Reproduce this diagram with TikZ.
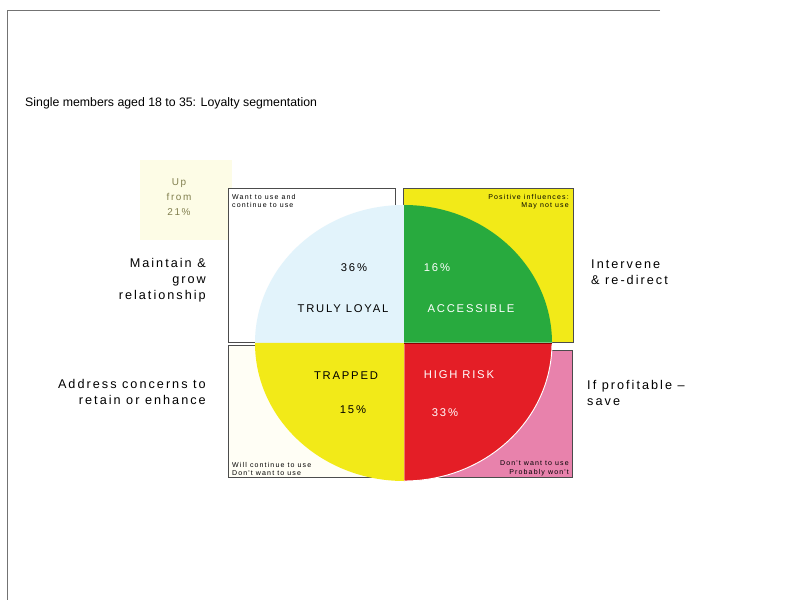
\documentclass[tikz,border=0pt]{standalone}
\usepackage{fontspec}
\setmainfont{Liberation Sans}
\newfontfamily\spacedfont{Liberation Sans}[LetterSpace=16]
\definecolor{segGreen}{RGB}{40,170,62}
\definecolor{segYellow}{RGB}{242,234,24}
\definecolor{segRed}{RGB}{228,30,38}
\definecolor{segPink}{RGB}{232,130,172}
\definecolor{segBlue}{RGB}{226,243,251}
\definecolor{upYellow}{RGB}{253,252,230}
\definecolor{upText}{RGB}{130,128,80}
\begin{document}
\begin{tikzpicture}[x=0.03cm, y=-0.03cm, every node/.style={inner sep=0pt},
    box/.style={draw=black!70, line width=0.5pt, anchor=north west},
    seglabel/.style={font=\spacedfont\fontsize{9.6}{11}\selectfont},
    sidelabel/.style={font=\spacedfont\fontsize{10.8}{13.5}\selectfont, align=#1},
    small/.style={font=\spacedfont\fontsize{6}{7.2}\selectfont, align=#1}]
    \useasboundingbox (0,0) rectangle (786,600);
    % frame
    \draw[black!55, line width=0.6pt] (660,10) -- (7,10) -- (7,600);
    
    % title
    \node[anchor=west, font=\fontsize{10.5}{12}\selectfont] (title) at (25,103) {Single members aged 18 to 35: Loyalty segmentation};
    
    % up from 21%
    \fill[upYellow] (140,160) rectangle (232,240);
    \node[align=center, text=upText, font=\spacedfont\fontsize{8.5}{12.5}\selectfont] (upfrom) at (179,197) {Up\\from\\21\%};
    
    % quadrant boxes
    \node[box, fill=white, minimum width=5.01cm, minimum height=4.62cm] (tl) at (228,188) {};
    \node[box, fill=segYellow, minimum width=5.1cm, minimum height=4.62cm] (tr) at (403,188) {};
    \node[box, fill=yellow!4, minimum width=5.07cm, minimum height=3.96cm] (bl) at (228,345) {};
    \node[box, fill=segPink, minimum width=4.98cm, minimum height=3.81cm] (br) at (406,350) {};
    
    % quarter ellipses
    \fill[segBlue] (404,343) -- (255,343) arc[start angle=180, end angle=90, x radius=4.47cm, y radius=4.14cm] -- cycle;
    \fill[segGreen] (404,343) -- (404,205) arc[start angle=90, end angle=0, x radius=4.44cm, y radius=4.14cm] -- cycle;
    \filldraw[fill=segRed, draw=white, line width=0.8pt] (404,343) -- (552,343) arc[start angle=0, end angle=-90, x radius=4.44cm, y radius=4.14cm] -- cycle;
    \fill[segYellow] (404,343) -- (404,481) arc[start angle=270, end angle=180, x radius=4.47cm, y radius=4.14cm] -- cycle;
    \draw[black!45!red, line width=0.6pt] (404,343) -- (552,343);
    
    % segment texts
    \node[seglabel] (pctLoyal) at (354,268) {36\%};
    \node[seglabel] (lblLoyal) at (343,309) {TRULY LOYAL};
    \node[seglabel, text=white] (pctAcc) at (437,268) {16\%};
    \node[seglabel, text=white] (lblAcc) at (471,309) {ACCESSIBLE};
    \node[seglabel] (lblTrap) at (346,376) {TRAPPED};
    \node[seglabel] (pctTrap) at (353,410) {15\%};
    \node[seglabel, text=white] (lblRisk) at (459,375) {HIGH RISK};
    \node[seglabel, text=white] (pctRisk) at (445,413) {33\%};
    
    % corner notes
    \node[small=left, anchor=north west] (noteTL) at (232,194) {Want to use and\\continue to use};
    \node[small=right, anchor=north east] (noteTR) at (569,194) {Positive influences:\\May not use};
    \node[small=left, anchor=south west] (noteBL) at (232,476) {Will continue to use\\Don't want to use};
    \node[small=right, anchor=south east] (noteBR) at (569,476) {Don't want to use\\Probably won't};
    
    % side texts
    \node[sidelabel=right, anchor=east] (maintain) at (206,280) {Maintain \&\\grow\\relationship};
    \node[sidelabel=right, anchor=east] (address) at (206,392) {Address concerns to\\retain or enhance};
    \node[sidelabel=left, anchor=west] (intervene) at (591,272) {Intervene\\\& re-direct};
    \node[sidelabel=left, anchor=west] (profit) at (587,393) {If profitable \textendash\\save};
\end{tikzpicture}
\end{document}
